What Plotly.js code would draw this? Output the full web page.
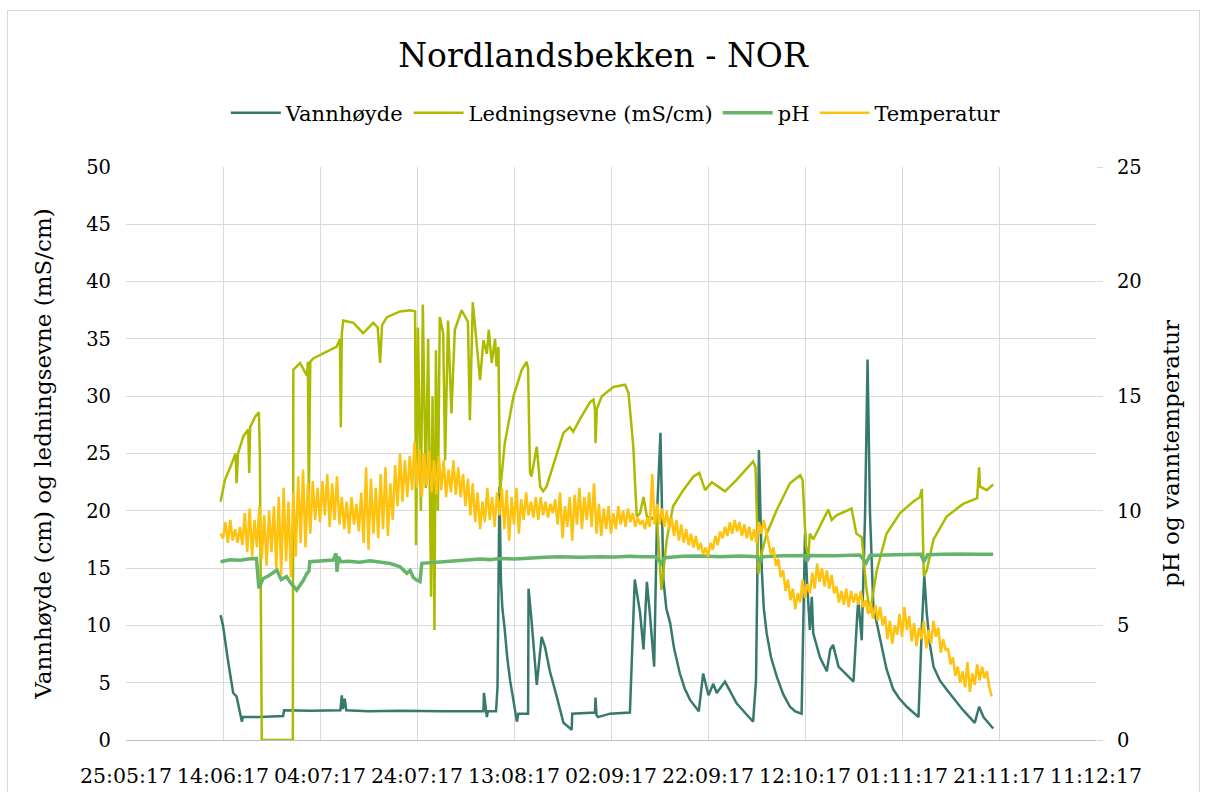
<!DOCTYPE html>
<html>
<head>
<meta charset="utf-8">
<script src="https://cdn.plot.ly/plotly-3.0.1.min.js"></script>
<style>
  body { margin: 0; background: #fff; }
  #chart { position: absolute; left: 0; top: 0; width: 1206px; height: 792px; }
  #frame { position: absolute; left: 7px; top: 10px; width: 1191px; height: 800px; border: 1px solid #d9d9d9; pointer-events: none; }
</style>
</head>
<body>
<div id="chart"></div>
<div id="frame"></div>
<script>
// Day offsets are counted from 25.05.2017 (first tick on the x axis)
const startDate = Date.UTC(2017, 4, 25);

// Vannhøyde (cm), left axis
const levelDays = [19.5, 20.0, 21.0, 22.1, 22.8, 23.9, 24.1, 27.6, 32.4, 32.6, 38, 44.2, 44.5, 44.7, 45.1, 45.4, 50, 56.5, 65,
  73.7, 73.8, 74.4, 74.6, 76.3, 76.6, 77.0, 77.3, 77.6, 78.1, 78.6, 79.2, 80.0, 80.6, 80.9, 82.9, 83.0, 83.6, 84.7, 85.7, 86.4,
  87.4, 88.8, 90.2, 91.9, 92.0, 96.7, 96.8, 97.0, 97.3, 99.8, 103.9, 104.9, 106.0, 106.7, 107.4, 108.0, 108.9, 109.5, 110.2,
  110.8, 111.4, 112.2, 113.0, 114.2, 115.2, 116.3, 118.1, 119.0, 120.1, 121.1, 121.8, 123.5, 125.9, 128.0, 129.3, 129.9, 130.5,
  131.1, 131.5, 132.1, 133.0, 134.2, 135.5, 136.9, 138.0, 139.3, 139.6, 140.0, 140.4, 141.0, 141.4, 141.7, 143.1, 144.5, 145.2,
  145.8, 146.9, 150.0, 150.8, 151.0, 151.7, 152.4, 152.9, 153.4, 154.1, 155.5, 156.8, 158.2, 159.5, 161.0, 163.4, 164.1, 164.6,
  165.1, 165.7, 166.5, 167.8, 169.2, 171.0, 172.6, 175.0, 175.9, 176.8, 178.8];
const levelValues = [10.9, 10.0, 7.0, 4.1, 3.8, 1.6, 2.0, 2.0, 2.1, 2.6, 2.55, 2.6, 3.9, 2.7, 3.6, 2.6, 2.5, 2.55, 2.5,
  2.5, 4.1, 2.0, 2.5, 2.5, 4.6, 22.1, 14.0, 11.5, 9.6, 7.2, 5.2, 3.0, 1.6, 2.3, 2.3, 13.2, 10.5, 4.8, 9.0, 8.1,
  6.0, 3.8, 1.5, 0.9, 2.3, 2.4, 3.7, 2.2, 2.0, 2.3, 2.4, 14.0, 11.1, 7.9, 13.8, 11.1, 6.4, 19.8, 26.8,
  14.0, 11.5, 10.2, 8.0, 5.8, 4.5, 3.5, 2.5, 5.8, 3.9, 4.9, 4.1, 5.1, 3.2, 2.2, 1.6, 5.2, 25.3,
  14.8, 11.5, 9.3, 7.2, 5.5, 4.0, 2.9, 2.5, 2.3, 10.0, 18.0, 14.0, 9.6, 12.5, 9.3, 7.2, 6.0, 7.9,
  8.3, 6.4, 5.1, 11.1, 12.2, 8.7, 20.0, 33.2, 19.8, 11.6, 8.7, 6.2, 4.4, 3.6, 2.9, 2.0, 9.9, 14.3,
  11.1, 8.5, 6.4, 5.2, 4.4, 3.4, 2.6, 1.5, 2.9, 2.0, 1.0];

// Ledningsevne (mS/cm), left axis
const condDays = [19.5, 20.4, 21.5, 22.1, 22.6, 22.8, 23.1, 24.2, 25.2, 25.4, 25.6, 26.6, 27.4, 27.6, 28.0, 34.4, 34.5, 35.9,
  37.3, 37.5, 37.7, 38.0, 38.6, 41.4, 43.4, 44.1, 44.3, 44.5, 44.8, 46.9, 48.9, 51.0, 51.9, 52.4, 52.8, 53.8, 56.5, 58.6,
  59.6, 59.8, 60.2, 60.8, 61.2, 61.8, 62.3, 62.9, 63.2, 63.6, 63.9, 64.3, 64.7, 65.4, 65.8, 66.4, 67.1, 67.8, 69.2, 70.5,
  70.9, 71.5, 72.3, 73.0, 73.7, 74.4, 74.8, 75.4, 76.1, 76.4, 76.8, 77.1, 78.1, 79.9, 81.6, 82.6, 82.9, 83.3, 83.6, 84.7,
  85.4, 86.0, 86.7, 88.8, 90.2, 91.5, 92.2, 93.6, 95.7, 96.4, 96.7, 96.8, 97.1, 98.1, 100.5, 102.9, 103.6, 104.6, 105.3,
  106.0, 106.7, 107.4, 108.5, 109.4, 110.1, 110.4, 111.5, 112.8, 114.9, 117.0, 118.2, 119.4, 120.8, 121.8, 123.5, 125.9,
  129.3, 129.8, 130.4, 130.7, 132.1, 134.2, 136.9, 139.0, 139.5, 140.2, 140.7, 141.0, 141.7, 144.8, 145.5, 146.5, 149.6,
  150.6, 151.7, 152.6, 153.4, 154.8, 156.8, 159.6, 162.3, 163.7, 164.1, 164.5, 165.1, 166.5, 169.2, 172.6, 175.5, 175.9,
  176.1, 177.5, 178.8];
const condValues = [20.8, 22.7, 23.8, 24.4, 25.0, 22.4, 25.0, 26.5, 27.1, 23.3, 27.3, 28.2, 28.6, 25.0, 0, 0, 32.3, 32.9,
  31.8, 33.0, 20.9, 33.0, 33.3, 33.9, 34.3, 35.0, 27.3, 35.5, 36.6, 36.4, 35.5, 36.4, 36.0, 32.9, 36.2, 36.9, 37.4, 37.5,
  37.4, 17.0, 36.0, 20.0, 38.0, 22.0, 35.0, 12.5, 30.0, 9.6, 34.0, 20.0, 36.9, 35.5, 24.4, 36.6, 28.5, 35.8, 37.5, 36.5,
  27.9, 38.2, 34.3, 31.4, 34.9, 33.7, 35.8, 32.9, 35.0, 32.6, 34.3, 21.5, 25.9, 30.0, 32.3, 33.0, 32.4, 23.3, 23.0, 25.6,
  22.1, 21.7, 22.1, 25.0, 26.8, 27.3, 26.9, 28.0, 29.5, 29.7, 28.8, 25.9, 28.9, 30.0, 30.8, 31.0, 30.3, 25.6, 19.5,
  19.8, 21.2, 19.5, 19.3, 19.8, 15.4, 13.1, 17.5, 20.4, 21.8, 23.0, 23.3, 21.8, 22.5, 22.2, 21.7, 22.7,
  24.3, 23.8, 14.5, 15.7, 18.0, 20.1, 22.4, 23.1, 22.7, 16.9, 16.0, 18.0, 17.5, 20.1, 19.2, 19.6, 20.2,
  18.0, 17.7, 13.4, 11.1, 14.8, 18.0, 19.8, 20.8, 21.2, 21.9, 14.3, 14.8, 17.5, 19.5, 20.6, 21.1, 23.8,
  22.1, 21.8, 22.3];

// pH, right axis
const phDays = [19.5, 21.4, 23.5, 25.2, 26.9, 27.4, 28.3, 29.7, 31.1, 32.0, 33.1, 33.8, 35.2, 36.6, 37.3, 37.7, 37.9, 40.3,
  42.7, 43.3, 43.5, 43.8, 44.3, 46.0, 48.2, 50.3, 52.4, 54.5, 56.5, 57.9, 58.6, 59.2, 59.9, 60.6, 61.0, 62.8, 64.7, 66.8,
  68.9, 71.0, 73.0, 75.0, 77.1, 80.2, 83.3, 86.4, 89.5, 93.6, 97.7, 100.8, 103.9, 106.5, 109.1, 110.4, 111.1, 114.8, 118.4,
  122.5, 126.6, 130.1, 130.7, 131.3, 135.5, 140.0, 140.4, 141.0, 146.0, 151.3, 152.6, 153.4, 158.5, 163.9, 164.5, 165.3,
  168.5, 172.0, 175.5, 178.8];
const phValues = [7.78, 7.86, 7.84, 7.90, 7.92, 6.62, 7.05, 7.20, 7.42, 7.00, 7.13, 6.90, 6.54, 6.98, 7.27, 7.35, 7.78, 7.82,
  7.85, 8.14, 7.34, 8.00, 7.78, 7.80, 7.76, 7.82, 7.75, 7.70, 7.56, 7.27, 7.40, 7.10, 6.98, 6.91, 7.71, 7.74, 7.78, 7.83,
  7.85, 7.88, 7.90, 7.87, 7.92, 7.90, 7.95, 7.97, 8.00, 7.97, 8.00, 7.98, 8.02, 7.99, 8.00, 7.72, 7.95, 8.02, 8.03,
  8.00, 8.03, 8.00, 7.78, 8.00, 8.04, 8.05, 7.80, 8.05, 8.04, 8.07, 7.72, 8.05, 8.08, 8.10, 7.78, 8.08,
  8.10, 8.12, 8.10, 8.10];

// Temperatur (°C), right axis, read every half day from day 19.5
const tempFirstDay = 19.5;
const tempStepDays = 0.5;
const tempValues = [
  9.0, 8.8, 9.5, 8.6, 9.6, 8.7, 9.2, 8.6, 9.3, 8.5, 9.9, 8.2, 10.1, 8.0, 9.6, 8.4, 10.2, 7.9, 9.8, 7.6,
  10.0, 8.2, 10.2, 7.5, 10.6, 7.2, 11.0, 7.8, 10.4, 7.1, 10.8, 8.0, 11.5, 8.6, 11.8, 8.4, 11.2, 9.0, 11.3, 9.6,
  11.0, 9.5, 11.3, 9.8, 11.6, 9.3, 11.2, 9.6, 11.5, 9.4, 10.6, 9.2, 10.4, 9.0, 10.6, 9.4, 10.3, 9.1, 10.8, 8.6,
  11.9, 8.3, 11.4, 9.0, 11.0, 8.8, 11.6, 9.2, 11.9, 8.9, 11.2, 9.6, 12.0, 10.2, 12.5, 10.4, 12.2, 10.6, 12.4, 10.9,
  13.0, 11.0, 12.7, 10.6, 12.5, 11.1, 12.6, 10.8, 12.2, 10.7, 12.4, 10.9, 12.2, 10.6, 11.8, 10.8, 12.2, 10.7, 11.9, 10.6,
  11.6, 10.2, 11.4, 9.8, 11.2, 9.5, 10.8, 9.2, 10.4, 9.5, 11.0, 9.6, 10.6, 9.3, 10.8, 9.8, 11.0, 9.2, 10.9, 8.7,
  10.6, 9.4, 11.0, 9.0, 10.5, 9.6, 10.8, 9.8, 10.4, 9.7, 10.6, 9.6, 10.6, 9.8, 10.4, 9.7, 10.3, 9.9, 10.5, 9.4,
  10.8, 8.8, 10.2, 9.3, 10.6, 8.7, 10.7, 9.4, 11.0, 9.2, 10.6, 9.6, 10.8, 9.3, 11.2, 9.0, 10.3, 8.9, 10.1, 9.2,
  10.2, 9.0, 9.9, 9.2, 10.2, 9.4, 10.0, 9.3, 10.1, 9.5, 9.9, 9.3, 9.7, 9.4, 9.6, 9.2, 9.7, 9.3, 11.6, 9.4,
  10.3, 9.4, 10.1, 9.3, 10.0, 9.2, 9.7, 8.9, 9.6, 8.7, 9.4, 8.6, 9.2, 8.5, 9.0, 8.4, 8.9, 8.3, 8.6, 8.1,
  8.4, 8.0, 8.6, 8.3, 8.9, 8.5, 9.1, 8.8, 9.3, 8.9, 9.5, 9.0, 9.6, 9.1, 9.5, 8.9, 9.4, 8.8, 9.3, 8.7,
  9.2, 8.6, 9.5, 9.0, 9.6, 9.1, 8.7, 8.1, 8.4, 7.6, 7.9, 7.1, 7.4, 6.5, 7.0, 6.1, 6.6, 5.7, 6.4, 6.0,
  7.0, 6.2, 6.8, 6.4, 7.3, 6.6, 7.7, 6.9, 7.5, 6.7, 7.4, 6.6, 7.2, 6.4, 6.7, 6.0, 6.5, 5.9, 6.6, 5.8,
  6.5, 6.0, 6.4, 5.9, 6.5, 5.8, 6.1, 5.5, 6.0, 5.3, 5.9, 5.2, 5.8, 5.0, 5.4, 4.4, 5.2, 4.2, 5.0, 4.6,
  5.5, 4.5, 5.8, 4.8, 5.4, 4.3, 5.1, 4.1, 4.9, 4.4, 5.2, 4.0, 4.8, 4.2, 5.2, 4.5, 4.9, 3.8, 4.4, 3.9,
  4.0, 3.3, 3.6, 2.8, 3.2, 2.5, 3.0, 2.3, 3.4, 2.1, 2.9, 2.4, 3.3, 2.6, 3.2, 2.7, 3.0, 2.3, 1.9
];

function dayToDate(d) {
  return new Date(startDate + d * 864e5).toISOString().slice(0, 16).replace('T', ' ');
}

const tempDates = tempValues.map((v, i) => dayToDate(tempFirstDay + i * tempStepDays));

const traces = [
  {
    name: 'Vannhøyde', x: levelDays.map(dayToDate), y: levelValues,
    type: 'scatter', mode: 'lines', line: { color: '#38796d', width: 2.5 }
  },
  {
    name: 'Ledningsevne (mS/cm)', x: condDays.map(dayToDate), y: condValues,
    type: 'scatter', mode: 'lines', line: { color: '#adbb00', width: 2.5 }
  },
  {
    name: 'pH', x: phDays.map(dayToDate), y: phValues, yaxis: 'y2',
    type: 'scatter', mode: 'lines', line: { color: '#66b46c', width: 3.5 }
  },
  {
    name: 'Temperatur', x: tempDates, y: tempValues, yaxis: 'y2',
    type: 'scatter', mode: 'lines', line: { color: '#ffc20e', width: 2.5 }
  }
];

const layout = {
  width: 1206,
  height: 792,
  margin: { l: 126, r: 110, t: 167, b: 52 },
  paper_bgcolor: '#fff',
  plot_bgcolor: '#fff',
  font: { family: 'DejaVu Serif', color: '#000' },
  title: {
    text: 'Nordlandsbekken - NOR',
    font: { size: 33, color: '#000' },
    x: 0.5, xanchor: 'center',
    y: 0.93, yanchor: 'middle'
  },
  showlegend: true,
  legend: {
    orientation: 'h',
    x: 0.505, xanchor: 'center',
    y: 1.094, yanchor: 'middle',
    font: { size: 21 },
    itemwidth: 50
  },
  xaxis: {
    type: 'date',
    range: [dayToDate(0), dayToDate(200)],
    tick0: dayToDate(0),
    dtick: 20 * 864e5,
    tickformat: '%d:%m:%y',
    showgrid: true,
    gridcolor: '#d9d9d9',
    showline: true,
    linecolor: '#bfbfbf',
    zeroline: false,
    ticks: '',
    tickfont: { size: 20.5 },
    ticklabelstandoff: 17
  },
  yaxis: {
    range: [0, 50],
    dtick: 5,
    gridcolor: '#d9d9d9',
    zeroline: false,
    tickfont: { size: 19.5 },
    ticklabelstandoff: 14,
    title: {
      text: 'Vannhøyde (cm) og ledningsevne (mS/cm)',
      font: { size: 23 },
      standoff: 28
    }
  },
  yaxis2: {
    range: [0, 25],
    dtick: 5,
    overlaying: 'y',
    side: 'right',
    showgrid: false,
    zeroline: false,
    ticks: 'outside',
    ticklen: 6,
    tickcolor: '#d9d9d9',
    tickfont: { size: 19.5 },
    ticklabelstandoff: 10,
    title: {
      text: 'pH og vanntemperatur',
      font: { size: 23 },
      standoff: 22
    }
  }
};

Plotly.newPlot('chart', traces, layout, { displayModeBar: false, staticPlot: true });
</script>
</body>
</html>
